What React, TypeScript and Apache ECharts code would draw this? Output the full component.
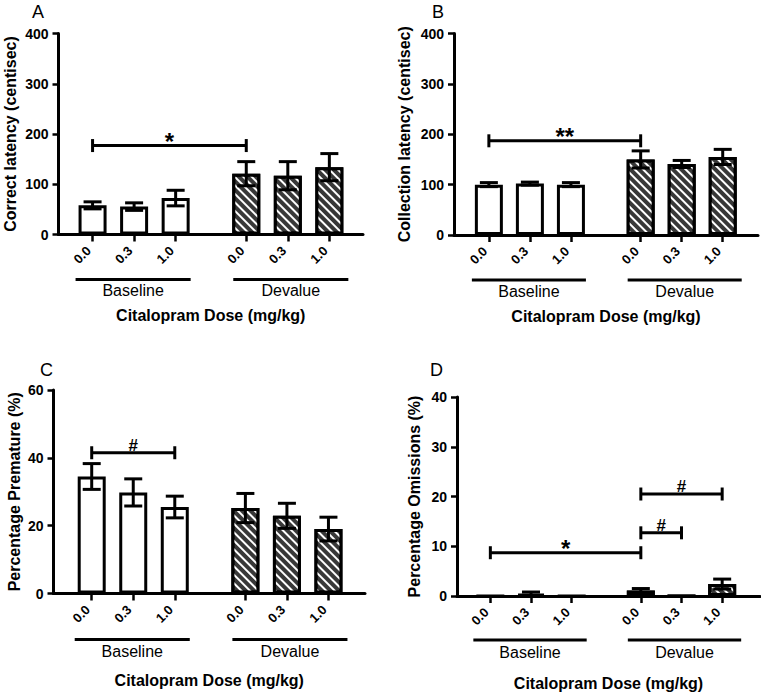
import { useEffect, useRef } from "react";
import * as echarts from "echarts";

// ---------- data ----------
const doseLabels = ["0.0", "0.3", "1.0", "0.0", "0.3", "1.0"];
const groupOf = [0, 0, 0, 1, 1, 1];
const groupNames = ["Baseline", "Devalue"];

const correctLatencyMean = [58, 55.5, 72.5, 121, 117, 134];
const correctLatencySem = [7, 7.5, 15.5, 24, 28, 27];

const collectionLatencyMean = [100, 102, 100, 150, 141, 155];
const collectionLatencySem = [4, 3, 4, 17, 7, 15];

const prematureMean = [34.5, 29.8, 25.5, 25.2, 22.9, 19.0];
const prematureSem = [3.8, 4.0, 3.2, 4.3, 3.7, 3.5];

const omissionsMean = [0, 0.4, 0, 1.1, 0, 2.4];
const omissionsSem = [0, 0.4, 0, 0.4, 0, 1.0];

const bracketsA = [{ from: 0, to: 3, y: 177, mark: "*" }];
const bracketsB = [{ from: 0, to: 3, y: 187, mark: "**" }];
const bracketsC = [{ from: 0, to: 2, y: 41.5, mark: "#" }];
const bracketsD = [
  { from: 0, to: 3, y: 8.7, mark: "*" },
  { from: 3, to: 4, y: 12.7, mark: "#" },
  { from: 3, to: 5, y: 20.5, mark: "#" },
];

const xTitle = "Citalopram Dose (mg/kg)";

// ---------- layout ----------
const FONT = "Liberation Sans, Arial, sans-serif";
const GROUP_GAP = 0.7;
const xPos = doseLabels.map((_, i) => i + (groupOf[i] ? GROUP_GAP : 0));
const underlineExt = [
  [-17, 15],
  [-13, 19],
];

const panels = [
  {
    letter: "A", letterPos: [32, 3], yName: "Correct latency (centisec)",
    mean: correctLatencyMean, sem: correctLatencySem, brackets: bracketsA,
    yMax: 400, yInterval: 100,
    grid: { left: 58.5, top: 33.5, width: 304.5, height: 201 },
    xMin: -0.82, xMax: 6.51, yNameGap: 40, titleGap: 73, underOff: 45, textOff: 56,
  },
  {
    letter: "B", letterPos: [432, 3], yName: "Collection latency (centisec)",
    mean: collectionLatencyMean, sem: collectionLatencySem, brackets: bracketsB,
    yMax: 400, yInterval: 100,
    grid: { left: 454, top: 33.5, width: 304, height: 201.5 },
    xMin: -0.85, xMax: 6.56, yNameGap: 42, titleGap: 73, underOff: 45, textOff: 56,
  },
  {
    letter: "C", letterPos: [40, 361], yName: "Percentage Premature (%)",
    mean: prematureMean, sem: prematureSem, brackets: bracketsC,
    yMax: 60, yInterval: 20,
    grid: { left: 53.5, top: 390, width: 311.5, height: 203.5 },
    xMin: -0.92, xMax: 6.58, yNameGap: 31, titleGap: 79, underOff: 46, textOff: 58,
  },
  {
    letter: "D", letterPos: [430, 361], yName: "Percentage Omissions (%)",
    mean: omissionsMean, sem: omissionsSem, brackets: bracketsD,
    yMax: 40, yInterval: 10,
    grid: { left: 457, top: 397, width: 303, height: 199 },
    xMin: -0.82, xMax: 6.63, yNameGap: 35, titleGap: 79, underOff: 44, textOff: 56,
  },
];

const BLACK = "#000";

const plainStyle = { color: "#ffffff", borderColor: BLACK, borderWidth: 3 };
const hatchStyle = {
  color: "#383838",
  borderColor: BLACK,
  borderWidth: 3,
  decal: {
    symbol: "rect",
    symbolSize: 1,
    color: "#ffffff",
    dashArrayX: [1, 0],
    dashArrayY: [1.8, 3.4],
    rotation: Math.PI / 4,
  },
};

function txt(text: string, size: number, bold: boolean, align: string, vAlign: string) {
  return {
    text,
    fill: BLACK,
    fontFamily: FONT,
    fontSize: size,
    fontWeight: bold ? "bold" : "normal",
    align,
    verticalAlign: vAlign,
  };
}

function buildOption() {
  const grids: any[] = [];
  const xAxes: any[] = [];
  const yAxes: any[] = [];
  const series: any[] = [];
  const graphics: any[] = [];

  panels.forEach((p, idx) => {
    grids.push({ ...p.grid, containLabel: false, outerBoundsMode: "none" });
    xAxes.push({
      type: "value",
      gridIndex: idx,
      min: p.xMin,
      max: p.xMax,
      name: xTitle,
      nameLocation: "middle",
      nameGap: p.titleGap,
      nameTextStyle: { fontFamily: FONT, fontWeight: "bold", fontSize: 16, color: BLACK },
      axisLine: { show: true, onZero: false, lineStyle: { color: BLACK, width: 3 } },
      axisTick: { show: true, customValues: xPos, length: 7, lineStyle: { color: BLACK, width: 2.5 } },
      axisLabel: { show: false },
      splitLine: { show: false },
    });
    yAxes.push({
      type: "value",
      gridIndex: idx,
      min: 0,
      max: p.yMax,
      interval: p.yInterval,
      name: p.yName,
      nameLocation: "middle",
      nameRotate: 90,
      nameGap: p.yNameGap,
      nameTextStyle: { fontFamily: FONT, fontWeight: "bold", fontSize: 16, color: BLACK },
      axisLine: { show: true, onZero: false, lineStyle: { color: BLACK, width: 3 } },
      axisTick: { show: true, length: 6, lineStyle: { color: BLACK, width: 2.5 } },
      axisLabel: { margin: 10, fontFamily: FONT, fontWeight: "bold", fontSize: 14, color: BLACK },
      splitLine: { show: false },
    });

    // bars
    series.push({
      type: "bar",
      xAxisIndex: idx,
      yAxisIndex: idx,
      barWidth: 28,
      silent: true,
      z: 2,
      data: p.mean.map((m, i) => ({
        value: [xPos[i], m],
        itemStyle: groupOf[i] ? hatchStyle : plainStyle,
      })),
    });

    // error bars
    series.push({
      type: "custom",
      xAxisIndex: idx,
      yAxisIndex: idx,
      silent: true,
      z: 4,
      data: p.mean.map((m, i) => [xPos[i], m, p.sem[i]]),
      renderItem: (params: any, api: any) => {
        const x = api.value(0);
        const m = api.value(1);
        const s = api.value(2);
        if (!s) return { type: "group", children: [] };
        const top = api.coord([x, m + s]);
        const bot = api.coord([x, m - s]);
        const cw = 9;
        const st = { stroke: BLACK, lineWidth: 3 };
        return {
          type: "group",
          children: [
            { type: "line", shape: { x1: top[0], y1: top[1], x2: bot[0], y2: bot[1] }, style: st },
            { type: "line", shape: { x1: top[0] - cw, y1: top[1], x2: top[0] + cw, y2: top[1] }, style: st },
            { type: "line", shape: { x1: bot[0] - cw, y1: bot[1], x2: bot[0] + cw, y2: bot[1] }, style: st },
          ],
        };
      },
    });

    // significance brackets
    series.push({
      type: "custom",
      xAxisIndex: idx,
      yAxisIndex: idx,
      silent: true,
      z: 5,
      data: p.brackets.map((b) => [xPos[b.from], b.y, xPos[b.to]]),
      renderItem: (params: any, api: any) => {
        const b = p.brackets[params.dataIndex];
        const a = api.coord([api.value(0), api.value(1)]);
        const c = api.coord([api.value(2), api.value(1)]);
        const st = { stroke: BLACK, lineWidth: 3 };
        const isStar = b.mark.indexOf("*") >= 0;
        return {
          type: "group",
          children: [
            { type: "line", shape: { x1: a[0], y1: a[1], x2: c[0], y2: c[1] }, style: st },
            { type: "line", shape: { x1: a[0], y1: a[1] - 6.5, x2: a[0], y2: a[1] + 6.5 }, style: st },
            { type: "line", shape: { x1: c[0], y1: c[1] - 6.5, x2: c[0], y2: c[1] + 6.5 }, style: st },
            {
              type: "text",
              x: (a[0] + c[0]) / 2,
              y: a[1] - (isStar ? 4.5 : 7.5),
              style: txt(b.mark, isStar ? 24 : 17, true, "center", "middle"),
            },
          ],
        };
      },
    });

    // rotated dose tick labels
    series.push({
      type: "custom",
      xAxisIndex: idx,
      yAxisIndex: idx,
      silent: true,
      z: 5,
      data: xPos.map((x) => [x, 0]),
      renderItem: (params: any, api: any) => {
        const cs = params.coordSys;
        const base = cs.y + cs.height;
        const c = api.coord([api.value(0), 0]);
        return {
          type: "text",
          x: c[0] - 4,
          y: base + 14,
          rotation: Math.PI / 4,
          style: txt(doseLabels[params.dataIndex], 13, true, "right", "middle"),
        };
      },
    });

    // group underlines + names
    series.push({
      type: "custom",
      xAxisIndex: idx,
      yAxisIndex: idx,
      silent: true,
      z: 5,
      data: groupNames.map((_, gi) => {
        const members = xPos.filter((_, i) => groupOf[i] === gi);
        return [members[0], 0, members[members.length - 1]];
      }),
      renderItem: (params: any, api: any) => {
        const gi = params.dataIndex;
        const cs = params.coordSys;
        const base = cs.y + cs.height;
        const x1 = api.coord([api.value(0), 0])[0] + underlineExt[gi][0];
        const x2 = api.coord([api.value(2), 0])[0] + underlineExt[gi][1];
        return {
          type: "group",
          children: [
            {
              type: "line",
              shape: { x1, y1: base + p.underOff, x2, y2: base + p.underOff },
              style: { stroke: BLACK, lineWidth: 3 },
            },
            {
              type: "text",
              x: (x1 + x2) / 2,
              y: base + p.textOff,
              style: txt(groupNames[gi], 16, false, "center", "middle"),
            },
          ],
        };
      },
    });

    graphics.push({
      type: "text",
      left: p.letterPos[0],
      top: p.letterPos[1],
      style: txt(p.letter, 18, false, "left", "top"),
    });
  });

  return {
    animation: false,
    backgroundColor: "#ffffff",
    textStyle: { fontFamily: FONT },
    grid: grids,
    xAxis: xAxes,
    yAxis: yAxes,
    series,
    graphic: graphics,
  };
}

export default function App() {
  const ref = useRef<HTMLDivElement>(null);
  useEffect(() => {
    if (!ref.current) return;
    const chart = echarts.init(ref.current, undefined, { renderer: "svg" });
    chart.setOption(buildOption() as any);
    return () => chart.dispose();
  }, []);
  return (
    <div
      ref={ref}
      style={{ position: "fixed", left: 0, top: 0, width: 761, height: 692, background: "#fff" }}
    />
  );
}
